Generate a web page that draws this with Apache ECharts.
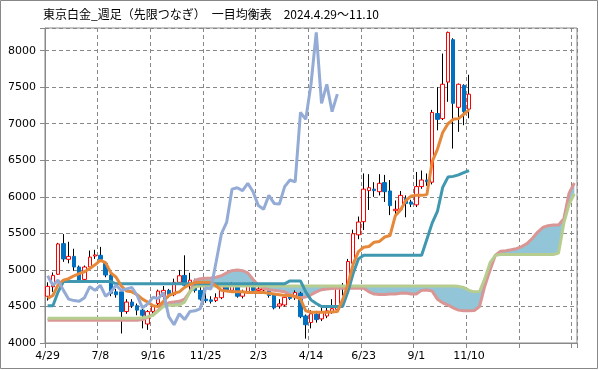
<!DOCTYPE html>
<html><head><meta charset="utf-8">
<script src="https://cdn.jsdelivr.net/npm/echarts@6/dist/echarts.min.js"></script>
<style>html,body{margin:0;padding:0;background:#fff}#c{width:599px;height:370px}</style>
</head><body><div id="c"></div>
<script>
const categories = ["4/29","5/6","5/13","5/20","5/27","6/3","6/10","6/17","6/24","7/1",
"7/8","7/15","7/22","7/29","8/5","8/12","8/19","8/26","9/2","9/9",
"9/16","9/23","9/30","10/7","10/14","10/21","10/28","11/4","11/11","11/18",
"11/25","12/2","12/9","12/16","12/23","12/30","1/6","1/13","1/20","1/27",
"2/3","2/10","2/17","2/24","3/3","3/10","3/17","3/24","3/31","4/7",
"4/14","4/21","4/28","5/5","5/12","5/19","5/26","6/2","6/9","6/16",
"6/23","6/30","7/7","7/14","7/21","7/28","8/4","8/11","8/18","8/25",
"9/1","9/8","9/15","9/22","9/29","10/6","10/13","10/20","10/27","11/3",
"11/10","11/17","11/24","12/1","12/8","12/15","12/22","12/29","1/5","1/12",
"1/19","1/26","2/2","2/9","2/16","2/23","3/2","3/9","3/16","3/23","3/30"];

const openP = [4640,4770,4940,5360,5145,5185,5040,4870,5040,5190,
5200,5090,4930,4700,4700,4430,4560,4510,4450,4260,
4430,4540,4640,4720,4660,4830,4925,4800,4850,4720,
4600,4590,4580,4620,4770,4720,4790,4640,4700,4790,
4720,4725,4720,4665,4505,4520,4650,4620,4680,4370,
4280,4395,4330,4370,4420,4460,4760,4760,5090,5480,
5660,6085,6105,6070,6195,6080,5810,5830,5980,5930,
5890,6140,6230,6200,7140,7070,7570,8150,7225,7525,7200];
const closeP = [4775,4925,5355,5150,5185,5040,4860,5040,5175,5205,
5145,4930,4680,4660,4430,4560,4510,4450,4380,4430,
4510,4710,4720,4665,4830,4920,4790,4860,4720,4600,
4580,4570,4620,4770,4720,4790,4640,4700,4790,4720,
4740,4760,4650,4480,4535,4625,4610,4690,4360,4250,
4400,4320,4430,4440,4470,4755,4740,5115,5495,5655,
6105,6125,6085,6185,6070,5880,5830,6020,5910,5900,
6140,6230,6205,7155,7060,7540,8250,7280,7540,7165,7405];
const highP = [4830,4965,5370,5490,5385,5290,5060,5060,5265,5275,
5315,5110,4950,4740,4720,4600,4600,4540,4470,4450,
4530,4730,4780,4740,4880,5000,5200,4960,4880,4800,
4700,4640,4680,4800,4800,4830,4820,4730,4810,4830,
4800,4790,4750,4680,4600,4660,4680,4720,4700,4390,
4450,4440,4480,4520,4600,4780,4820,5150,5550,5730,
6320,6310,6200,6310,6300,6230,5950,6080,6020,5960,
6340,6360,6320,7190,7500,7960,8260,8170,7550,7540,7670];
const lowP = [4580,4700,4930,5110,5090,4990,4830,4840,5020,5150,
5120,4900,4640,4620,4130,4400,4480,4380,4200,4180,
4400,4520,4600,4620,4640,4810,4760,4720,4690,4580,
4550,4540,4560,4600,4700,4700,4620,4610,4680,4700,
4700,4700,4620,4460,4470,4500,4590,4590,4340,4060,
4200,4280,4300,4340,4400,4440,4650,4740,5040,5420,
5545,5820,6000,6020,5930,5750,5720,5800,5720,5860,
5860,6110,6150,6170,6910,7050,7300,6660,6890,6980,7075];

const tenkan = [4610,4650,4800,4860,4880,4920,4950,4975,5020,5070,
5130,5100,4960,4900,4780,4710,4700,4660,4600,4560,
4510,4500,4570,4650,4680,4700,4760,4800,4825,4830,
4830,4830,4780,4720,4710,4700,4700,4700,4690,4690,
4690,4690,4680,4670,4660,4650,4650,4640,4600,4440,
4420,4420,4420,4420,4425,4430,4590,4800,5080,5250,
5310,5320,5380,5390,5450,5470,5740,5820,5950,6010,
6020,6020,6030,6480,6650,6880,7000,7060,7070,7130,7190];
const kijun = [4510,4510,4700,4840,4840,4840,4840,4840,4840,4840,
4840,4840,4840,4810,4810,4810,4810,4810,4810,4810,
4810,4810,4810,4810,4810,4810,4810,4810,4810,4810,
4810,4810,4810,4810,4810,4810,4810,4810,4810,4810,
4810,4810,4810,4810,4810,4810,4850,4850,4850,4700,
4590,4540,4500,4500,4500,4500,4500,4700,4950,5150,
5200,5200,5200,5200,5200,5200,5200,5200,5200,5200,
5200,5200,5420,5640,5800,6130,6270,6280,6300,6330,6360];
const chikou = [4920,4790,4860,4720,4600,4580,4570,4620,4770,4720,
4790,4640,4700,4790,4720,4740,4760,4650,4480,4535,
4625,4610,4690,4360,4250,4400,4320,4430,4440,4470,
4755,4740,5115,5495,5655,6105,6125,6085,6185,6070,
5880,5830,6020,5910,5900,6140,6230,6205,7155,7060,
7540,8250,7280,7540,7165,7405];
const spanA = [4310,4310,4310,4310,4310,4310,4310,4310,4310,4310,
4310,4310,4310,4310,4310,4310,4310,4310,4320,4350,
4390,4450,4520,4550,4560,4570,4600,4700,4860,4880,
4885,4890,4900,4920,4960,4990,5000,4990,4960,4870,
4790,4750,4730,4720,4710,4700,4660,4630,4620,4630,
4660,4700,4730,4740,4745,4750,4750,4750,4750,4750,
4750,4700,4670,4665,4665,4670,4670,4680,4685,4670,
4670,4720,4725,4710,4600,4550,4520,4480,4450,4440,
4440,4445,4500,4780,5000,5200,5255,5262,5275,5290,
5320,5360,5430,5515,5580,5605,5613,5615,5700,6050,6190];
const spanB = [4340,4340,4340,4340,4340,4340,4340,4340,4340,4340,
4340,4340,4340,4340,4340,4340,4340,4340,4345,4355,
4380,4440,4500,4515,4515,4520,4560,4700,4770,4780,
4780,4780,4780,4780,4780,4780,4780,4780,4780,4780,
4780,4780,4780,4780,4780,4780,4780,4780,4780,4780,
4780,4780,4780,4780,4780,4780,4780,4780,4780,4780,
4780,4780,4780,4780,4780,4780,4780,4780,4780,4780,
4780,4780,4780,4780,4780,4780,4780,4780,4775,4760,
4720,4700,4705,4880,5100,5200,5210,5210,5210,5210,
5210,5210,5210,5210,5210,5210,5210,5230,5640,5900,6040];
const yTicks = [4000,4500,5000,5500,6000,6500,7000,7500,8000];

const wickData = openP.map((o,i)=>[o, closeP[i], lowP[i], highP[i]]);
const bodyData = openP.map((o,i)=>[o, closeP[i], Math.min(o,closeP[i]), Math.max(o,closeP[i])]);
const cloudBase = spanA.map((a,i)=>Math.min(a, spanB[i]));
const cloudDiff = spanA.map((a,i)=>Math.abs(a - spanB[i]));

const chart = echarts.init(document.getElementById('c'), null, {renderer:'canvas'});
const lineS = (name, data, color) => ({
  name, type:'line', data, symbol:'none', smooth:false, silent:true,
  lineStyle:{color, width:3}, z:5
});
chart.setOption({
  animation:false,
  backgroundColor:'#fff',
  grid:{left:45, right:22, top:28, bottom:27, show:true, borderColor:'#888', borderWidth:1, backgroundColor:'#fff'},
  graphic:[
    {type:'rect', shape:{x:0.5,y:0.5,width:597,height:368}, style:{fill:'none', stroke:'#888', lineWidth:1}, silent:true},
    {type:'text', left:43, top:8, style:{text:'東京白金_週足（先限つなぎ）　一目均衡表　2024.4.29～11.10', font:'12px "Noto Sans CJK JP"', fill:'#000'}}
  ],
  xAxis:{type:'category', data:categories, boundaryGap:true,
    axisLine:{lineStyle:{color:'#888'}},
    axisTick:{show:true, interval:9, length:5, lineStyle:{color:'#888'}},
    axisLabel:{interval:(idx)=> idx%10===0 && idx<=80, color:'#000', fontSize:11, fontFamily:'DejaVu Sans', margin:8},
    splitLine:{show:true, interval:9, lineStyle:{color:'#888', type:[4,3], width:1}}
  },
  yAxis:{type:'value', min:4000, max:8310, interval:500, scale:false,
    axisLine:{show:true, lineStyle:{color:'#888'}},
    axisTick:{show:true, length:5, lineStyle:{color:'#888'}},
    axisLabel:{color:'#000', fontSize:11, fontFamily:'DejaVu Sans', margin:9,
      formatter:(v)=> yTicks.includes(v) ? String(v) : ''},
    splitLine:{lineStyle:{color:'#888', type:[4,3], width:1}}
  },
  series:[
    {type:'line', data:cloudBase, stack:'cloud', symbol:'none', silent:true, lineStyle:{opacity:0, width:0}, z:1},
    {type:'line', data:cloudDiff, stack:'cloud', symbol:'none', silent:true, lineStyle:{opacity:0, width:0}, areaStyle:{color:'#92C5D8', opacity:1}, z:1},
    {type:'candlestick', data:wickData, barWidth:1, silent:true, z:2,
      itemStyle:{color:'#000', color0:'#000', borderColor:'#000', borderColor0:'#000', borderColorDoji:'#000', borderWidth:1}},
    {type:'candlestick', data:bodyData, barWidth:4, silent:true, z:3,
      itemStyle:{color:'#fff', color0:'#0070C0', borderColor:'#FF0000', borderColor0:'#0070C0', borderColorDoji:'#FF0000', borderWidth:1}},
    lineS('spanA', spanA, '#D99694'),
    lineS('spanB', spanB, '#B6CD8F'),
    lineS('kijun', kijun, '#3F98AF'),
    lineS('tenkan', tenkan, '#E6883A'),
    lineS('chikou', chikou, '#94ABD6')
  ]
});
</script>
</body></html>
